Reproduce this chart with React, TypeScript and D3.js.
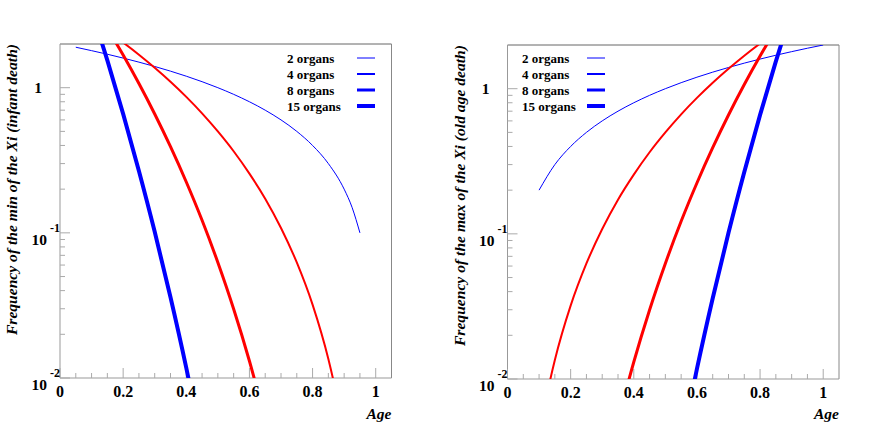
import React from "react";
import * as d3 from "d3";

// ---------- data ----------
const legendLabels = ["2 organs", "4 organs", "8 organs", "15 organs"];
const seriesColors = ["#0000ff", "#ff0000", "#ff0000", "#0000ff"];
const seriesWidths = [1, 2, 3, 4];
const legendColors = ["#0000ff", "#0000ff", "#0000ff", "#0000ff"];

const xTickValues = [0, 0.2, 0.4, 0.6, 0.8, 1];
const xTickLabels = ["0", "0.2", "0.4", "0.6", "0.8", "1"];
const xMinorTicks = [0.05, 0.1, 0.15, 0.25, 0.3, 0.35, 0.45, 0.5, 0.55, 0.65, 0.7, 0.75, 0.85, 0.9, 0.95];
const yMajorTicks = [1, 0.1, 0.01];
const yMajorExp = ["", "-1", "-2"];
const yMinorTicks = [0.02, 0.03, 0.04, 0.05, 0.06, 0.07, 0.08, 0.09, 0.2, 0.3, 0.4, 0.5, 0.6, 0.7, 0.8, 0.9];

// min of the Xi (infant death)
const minAges2 = [0.05, 0.1, 0.15, 0.2, 0.25, 0.3, 0.35, 0.4, 0.45, 0.5, 0.55, 0.6, 0.65, 0.7, 0.75, 0.8, 0.85, 0.9, 0.925, 0.95];
const minFreq2 = [1.9, 1.8, 1.7, 1.6, 1.5, 1.4, 1.3, 1.2, 1.1, 1.0, 0.9, 0.8, 0.7, 0.6, 0.5, 0.4, 0.3, 0.2, 0.15, 0.1];
const minAges4 = [0.15, 0.2, 0.25, 0.3, 0.35, 0.4, 0.45, 0.5, 0.55, 0.6, 0.65, 0.7, 0.75, 0.8, 0.85, 0.875, 0.9];
const minFreq4 = [2.457, 2.048, 1.688, 1.372, 1.099, 0.864, 0.666, 0.5, 0.365, 0.256, 0.172, 0.108, 0.0625, 0.032, 0.0135, 0.0078, 0.004];
const minAges8 = [0.15, 0.2, 0.25, 0.3, 0.35, 0.4, 0.45, 0.5, 0.55, 0.6, 0.65];
const minFreq8 = [2.565, 1.678, 1.068, 0.659, 0.392, 0.224, 0.122, 0.0625, 0.0299, 0.0131, 0.00514];
const minAges15 = [0.1, 0.15, 0.2, 0.25, 0.3, 0.35, 0.4, 0.45];
const minFreq15 = [3.432, 1.542, 0.66, 0.267, 0.1017, 0.036, 0.01175, 0.00347];

// max of the Xi (old age death)
const maxAges2 = [0.1, 0.15, 0.2, 0.25, 0.3, 0.35, 0.4, 0.45, 0.5, 0.55, 0.6, 0.65, 0.7, 0.75, 0.8, 0.85, 0.9, 0.95, 1.0];
const maxFreq2 = [0.2, 0.3, 0.4, 0.5, 0.6, 0.7, 0.8, 0.9, 1.0, 1.1, 1.2, 1.3, 1.4, 1.5, 1.6, 1.7, 1.8, 1.9, 2.0];
const maxAges4 = [0.1, 0.125, 0.15, 0.2, 0.25, 0.3, 0.35, 0.4, 0.45, 0.5, 0.55, 0.6, 0.65, 0.7, 0.75, 0.8, 0.85];
const maxFreq4 = [0.004, 0.0078, 0.0135, 0.032, 0.0625, 0.108, 0.172, 0.256, 0.365, 0.5, 0.666, 0.864, 1.099, 1.372, 1.688, 2.048, 2.457];
const maxAges8 = [0.35, 0.4, 0.45, 0.5, 0.55, 0.6, 0.65, 0.7, 0.75, 0.8, 0.85];
const maxFreq8 = [0.00514, 0.0131, 0.0299, 0.0625, 0.122, 0.224, 0.392, 0.659, 1.068, 1.678, 2.565];
const maxAges15 = [0.55, 0.6, 0.65, 0.7, 0.75, 0.8, 0.85, 0.9];
const maxFreq15 = [0.00347, 0.01175, 0.036, 0.1017, 0.267, 0.66, 1.542, 3.432];

const minSeries = [
  { ages: minAges2, freq: minFreq2 },
  { ages: minAges4, freq: minFreq4 },
  { ages: minAges8, freq: minFreq8 },
  { ages: minAges15, freq: minFreq15 },
];
const maxSeries = [
  { ages: maxAges2, freq: maxFreq2 },
  { ages: maxAges4, freq: maxFreq4 },
  { ages: maxAges8, freq: maxFreq8 },
  { ages: maxAges15, freq: maxFreq15 },
];

const FONT = "'Liberation Serif', 'Times New Roman', serif";

type PanelProps = {
  id: string;
  x0: number;
  x1: number;
  y0: number;
  y1: number;
  title: string;
  series: { ages: number[]; freq: number[] }[];
  legendTextX: number;
  legendLineX: number;
};

function Panel({ id, x0, x1, y0, y1, title, series, legendTextX, legendLineX }: PanelProps) {
  const x = d3.scaleLinear().domain([0, 1.05]).range([x0, x1]);
  const y = d3.scaleLog().domain([0.01, 2]).range([y1, y0]);
  const line = d3
    .line<[number, number]>()
    .x((d) => x(d[0]))
    .y((d) => y(d[1]))
    .curve(d3.curveMonotoneX);

  const legendYs = [58, 74, 90, 106];
  return (
    <g>
      <defs>
        <clipPath id={id}>
          <rect x={x0} y={y0} width={x1 - x0} height={y1 - y0} />
        </clipPath>
      </defs>
      {/* frame */}
      <line x1={x0} x2={x1} y1={y0} y2={y0} stroke="#666" strokeWidth={1} />
      <line x1={x1} x2={x1} y1={y0} y2={y1} stroke="#888" strokeWidth={1} />
      <line x1={x0} x2={x0} y1={y0} y2={y1} stroke="#999" strokeWidth={1} />
      <line x1={x0} x2={x1} y1={y1} y2={y1} stroke="#999" strokeWidth={1} />
      {/* x ticks */}
      {xTickValues.map((v) => (
        <line key={"xM" + v} x1={x(v)} x2={x(v)} y1={y1} y2={y1 - 10} stroke="#aaa" />
      ))}
      {xMinorTicks.map((v) => (
        <line key={"xm" + v} x1={x(v)} x2={x(v)} y1={y1} y2={y1 - 5} stroke="#aaa" />
      ))}
      {xTickLabels.map((lab, i) => (
        <text key={"xl" + lab} x={x(xTickValues[i])} y={y1 + 19} textAnchor="middle" fontFamily={FONT} fontWeight="bold" fontSize={16}>
          {lab}
        </text>
      ))}
      {/* y ticks */}
      {yMajorTicks.map((v) => (
        <line key={"yM" + v} x1={x0} x2={x0 + 10} y1={y(v)} y2={y(v)} stroke="#aaa" />
      ))}
      {yMinorTicks.map((v) => (
        <line key={"ym" + v} x1={x0} x2={x0 + 5} y1={y(v)} y2={y(v)} stroke="#aaa" />
      ))}
      {yMajorTicks.map((v, i) =>
        yMajorExp[i] === "" ? (
          <text key={"yl" + v} x={x0 - 22} y={y(v) + 5.5} textAnchor="middle" fontFamily={FONT} fontWeight="bold" fontSize={15.5}>
            1
          </text>
        ) : (
          <g key={"yl" + v}>
            <text x={x0 - 13} y={y(v) + 12} textAnchor="end" fontFamily={FONT} fontWeight="bold" fontSize={15.5}>
              10
            </text>
            <text x={x0 - 10} y={y(v) - 1} textAnchor="start" fontFamily={FONT} fontWeight="bold" fontSize={12}>
              {yMajorExp[i]}
            </text>
          </g>
        )
      )}
      {/* curves */}
      <g clipPath={`url(#${id})`}>
        {series.map((s, i) => (
          <path
            key={"s" + i}
            d={line(s.ages.map((a, k) => [a, s.freq[k]] as [number, number])) || ""}
            fill="none"
            stroke={seriesColors[i]}
            strokeWidth={seriesWidths[i]}
          />
        ))}
      </g>
      {/* legend */}
      {legendLabels.map((lab, i) => (
        <g key={"lg" + i}>
          <text x={legendTextX} y={legendYs[i] + 4.5} fontFamily={FONT} fontWeight="bold" fontSize={13}>
            {lab}
          </text>
          <line
            x1={legendLineX}
            x2={legendLineX + 18}
            y1={legendYs[i]}
            y2={legendYs[i]}
            stroke={legendColors[i]}
            strokeWidth={seriesWidths[i]}
          />
        </g>
      ))}
      {/* axis titles */}
      <text x={x1} y={419} textAnchor="end" fontFamily={FONT} fontWeight="bold" fontStyle="italic" fontSize={15.5}>
        Age
      </text>
      <text
        transform={`translate(${x0 - 43},${y0}) rotate(-90)`}
        textAnchor="end"
        fontFamily={FONT}
        fontWeight="bold"
        fontStyle="italic"
        fontSize={15.6}
      >
        {title}
      </text>
    </g>
  );
}

export default function App() {
  return (
    <div style={{ position: "fixed", left: 0, top: 0, width: 872, height: 424, background: "#fff" }}>
      <svg width={872} height={424} style={{ display: "block" }}>
        <rect width={872} height={424} fill="#fff" />
        <Panel
          id="clipL"
          x0={60}
          x1={391.5}
          y0={44}
          y1={378}
          title="Frequency of the min of the Xi (infant death)"
          series={minSeries}
          legendTextX={287}
          legendLineX={357}
        />
        <Panel
          id="clipR"
          x0={507.5}
          x1={839}
          y0={45}
          y1={379}
          title="Frequency of the max of the Xi (old age death)"
          series={maxSeries}
          legendTextX={522}
          legendLineX={587}
        />
      </svg>
    </div>
  );
}
